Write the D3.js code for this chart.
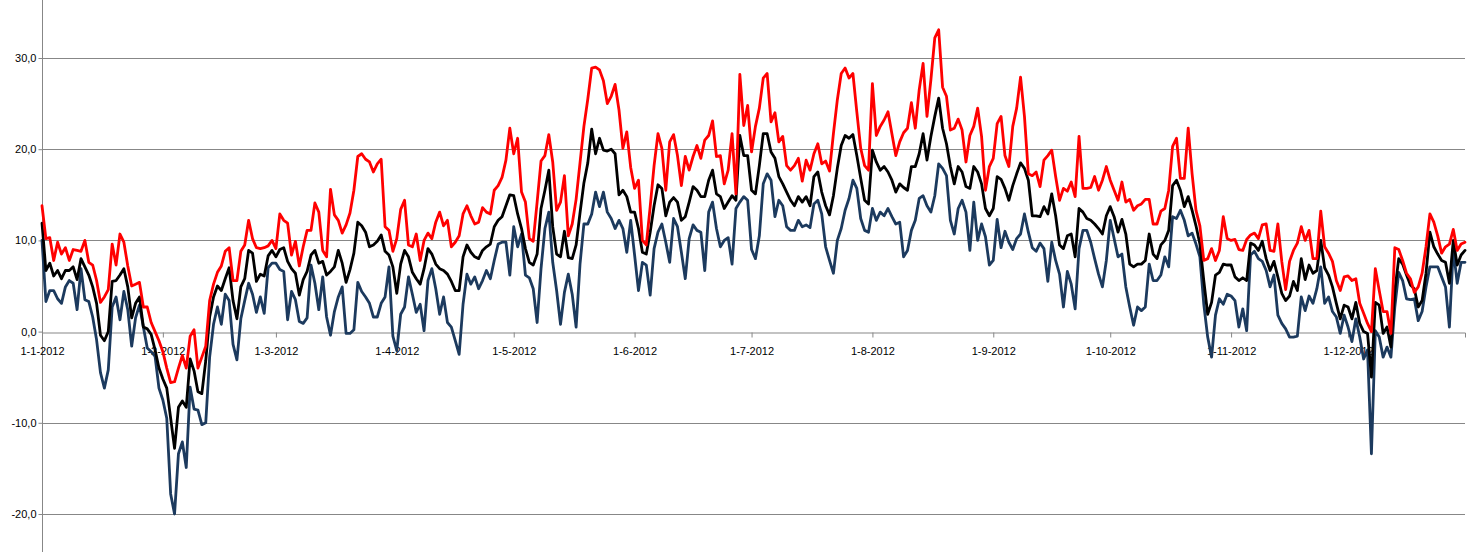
<!DOCTYPE html>
<html>
<head>
<meta charset="utf-8">
<script src="https://cdn.jsdelivr.net/npm/d3@7/dist/d3.min.js"></script>
<style>
  html, body { margin: 0; padding: 0; background: #ffffff; }
  svg { display: block; }
  text { font-family: "Liberation Sans", Arial, sans-serif; font-size: 11px; fill: #000; }
</style>
</head>
<body>
<svg id="chart" width="1472" height="552"></svg>
<script>
// ---- Data: daily temperatures 2012 (°C) ----
const tMax = [
  // Jan
  13.8,10.2,10.3,7.8,9.8,8.5,9.2,7.8,9.0,8.9,8.8,10.0,7.6,7.3,5.6,3.2,3.8,4.6,9.6,7.3,10.7,9.8,7.2,5.0,5.2,5.4,2.7,2.7,1.0,0.0,-1.0,
  // Feb
  -2.2,-4.0,-5.6,-5.5,-4.0,-2.6,-4.0,-0.5,0.2,-4.0,-2.8,-1.6,3.4,5.2,6.5,7.2,8.8,9.2,5.6,5.6,8.8,9.5,12.2,10.2,9.2,9.1,9.2,9.4,10.0,
  // Mar
  9.1,12.9,12.2,11.9,8.4,9.9,7.2,9.3,11.1,11.1,14.1,13.1,8.9,8.2,15.6,12.8,12.2,10.8,11.7,13.0,15.5,19.2,19.5,18.9,18.6,17.5,18.4,18.9,11.5,11.1,8.8,
  // Apr
  10.2,13.4,14.4,9.5,9.3,10.7,7.8,10.0,10.8,10.2,12.0,13.1,11.6,12.2,9.3,9.8,10.5,12.9,13.8,12.7,11.8,12.0,13.6,13.1,12.9,15.5,16.0,16.9,18.8,22.3,
  // May
  19.5,21.2,15.3,14.2,10.2,9.9,14.2,18.7,19.3,21.6,18.6,13.3,14.2,17.1,10.5,11.8,14.5,18.5,22.5,25.5,28.9,29.0,28.7,27.5,25.0,25.8,27.1,24.3,20.1,21.9,18.0,
  // Jun
  15.7,16.6,10.0,9.5,13.7,18.2,21.7,20.1,15.5,20.8,21.6,19.3,16.0,19.2,17.7,19.2,20.4,19.0,21.0,21.5,23.1,19.2,19.3,16.2,17.7,21.7,15.1,28.2,22.6,24.8,
  // Jul
  19.7,22.5,24.5,27.8,28.3,23.0,24.0,20.8,21.4,18.2,17.7,18.2,19.0,16.5,18.8,17.7,19.5,20.6,18.4,18.7,17.6,21.7,25.4,28.3,28.9,27.8,28.3,24.1,20.1,18.2,17.7,
  // Aug
  27.2,21.5,22.5,23.2,24.1,21.7,19.3,20.8,21.8,22.3,25.1,22.3,26.5,29.4,23.6,27.6,32.2,33.1,26.8,25.8,22.1,22.3,23.3,22.1,18.6,21.5,22.5,24.5,21.4,15.5,18.1,
  // Sep
  19.0,22.8,23.6,19.3,18.1,22.5,24.5,27.9,23.6,17.3,17.1,17.5,15.9,18.8,19.3,19.9,17.0,14.4,15.7,15.4,16.4,14.8,21.4,15.7,15.7,15.8,17.0,15.5,16.6,18.1,
  // Oct
  16.6,15.5,14.4,16.4,14.2,14.5,13.3,13.8,14.0,14.5,14.5,11.8,11.8,13.2,13.5,15.5,20.3,21.2,16.8,16.8,22.3,17.3,13.3,11.6,7.8,8.0,9.1,7.8,8.9,12.6,10.2,
  // Nov
  10.0,10.1,9.0,8.9,10.1,10.6,10.8,10.2,11.7,11.8,8.9,8.8,11.8,7.7,4.6,7.7,8.9,9.7,11.5,10.0,11.1,8.0,8.0,13.2,9.3,8.6,7.7,5.6,4.5,6.0,
  // Dec
  6.1,5.6,5.8,3.1,2.0,0.9,0.0,6.9,4.5,2.2,2.2,-0.2,9.2,9.0,7.8,6.4,5.8,4.3,4.9,6.4,9.3,12.9,12.0,10.5,8.6,9.3,9.6,11.2,8.9,9.6,9.8
];

const tMean = [
  // Jan
  11.9,6.7,7.5,6.1,6.7,5.8,6.7,6.7,7.1,5.7,8.0,7.1,6.2,4.9,3.1,-0.4,-1.0,0.0,5.5,5.6,6.2,6.9,4.9,1.5,3.1,3.8,0.5,0.3,-0.3,-2.0,-4.0,
  // Feb
  -5.2,-6.2,-9.5,-12.8,-8.3,-7.6,-8.3,-3.0,-4.3,-6.6,-6.8,-3.2,1.6,3.8,5.0,4.5,5.8,7.0,3.4,1.4,4.9,5.8,8.9,8.6,5.5,6.3,6.1,8.3,8.9,
  // Mar
  8.2,9.0,9.2,7.7,6.9,6.4,4.0,5.7,6.6,8.4,8.9,7.5,7.7,6.2,6.6,7.1,8.9,7.5,5.4,6.8,8.6,12.0,11.6,10.9,9.3,9.5,9.9,10.6,8.8,8.4,7.1,
  // Apr
  4.2,7.4,8.9,8.2,6.5,5.8,5.2,6.9,9.1,8.5,7.4,6.9,6.7,6.3,5.5,4.5,4.5,8.2,9.5,8.7,8.2,8.0,8.9,9.3,9.6,11.5,12.2,12.6,13.8,15.0,
  // May
  14.9,12.9,11.3,9.1,7.6,7.3,8.5,13.5,15.5,17.7,11.5,8.5,8.2,11.0,8.1,8.0,9.5,13.0,16.3,18.5,22.2,19.5,21.2,19.9,19.8,20.0,19.5,15.0,15.5,14.8,13.1,
  // Jun
  13.1,11.3,8.7,8.5,10.9,13.8,16.1,15.7,12.7,14.2,14.7,14.2,12.2,12.6,14.2,15.9,15.5,14.8,14.8,16.6,17.7,15.1,14.8,13.5,14.2,14.9,14.4,21.5,19.3,19.3,
  // Jul
  15.5,15.1,18.2,21.7,21.7,19.7,19.0,17.0,16.2,15.3,14.4,13.8,14.8,14.2,14.8,13.8,17.0,17.5,15.3,13.8,12.8,14.9,17.9,20.4,21.5,21.2,21.6,19.3,16.8,14.4,14.0,
  // Aug
  19.9,18.6,17.7,18.1,17.5,16.6,15.3,16.2,15.8,15.5,18.1,18.1,19.5,21.7,18.8,21.4,23.6,25.6,22.3,20.6,18.1,16.2,18.1,17.5,15.9,15.7,18.1,17.5,16.2,13.5,12.7,
  // Sep
  13.5,17.0,16.7,15.7,14.4,16.0,17.3,18.5,17.9,16.6,12.7,12.7,12.6,13.7,12.9,15.1,12.7,9.5,9.1,10.5,10.7,8.2,13.5,13.1,12.4,12.2,11.8,11.3,10.7,12.7,
  // Oct
  13.7,12.6,10.9,12.3,10.7,7.4,7.1,7.4,7.4,7.8,10.7,8.5,8.0,9.5,10.0,11.1,16.0,16.6,15.5,13.7,14.8,13.3,11.6,9.6,5.6,1.9,3.2,6.2,6.5,7.4,7.3,
  // Nov
  7.3,6.0,5.6,5.9,5.6,9.7,9.5,8.9,9.9,8.0,6.7,7.7,6.0,4.2,3.4,3.9,5.5,4.5,8.0,5.7,7.3,6.4,6.7,10.0,7.0,6.2,4.9,3.1,1.4,2.9,
  // Dec
  2.7,1.4,3.2,0.9,0.0,-0.2,-5.0,3.2,2.9,-0.2,0.5,-1.7,4.5,8.0,7.4,6.2,5.1,4.7,2.7,3.4,6.4,10.9,9.3,8.5,7.8,7.6,5.3,10.0,7.3,8.4,8.9
];

const tMin = [
  // Jan
  10.0,3.3,4.5,4.5,3.6,3.1,4.9,5.6,5.3,2.4,6.9,3.5,3.3,1.6,-0.9,-4.5,-6.2,-4.2,2.7,3.8,1.3,4.4,2.4,-1.6,1.5,2.9,0.5,-1.8,-2.2,-2.7,-6.2,
  // Feb
  -7.5,-9.5,-17.8,-20.0,-13.4,-12.1,-14.9,-6.1,-8.5,-8.6,-10.2,-10.0,-2.8,0.8,2.7,0.8,4.1,3.4,-1.4,-3.1,1.4,3.4,5.3,4.1,2.1,3.8,2.0,7.0,7.5,
  // Mar
  7.5,6.8,6.6,1.3,4.4,3.5,1.1,0.9,1.5,7.3,5.3,2.4,6.0,1.6,-0.4,2.2,3.8,4.9,-0.2,-0.2,0.2,5.4,4.4,3.8,3.1,1.6,1.6,3.1,3.8,7.1,-0.5,
  // Apr
  -2.1,1.9,2.7,6.0,4.1,2.1,3.0,0.1,5.6,6.9,4.7,1.9,3.8,1.0,0.5,-1.0,-2.5,3.0,6.3,5.2,6.0,4.7,5.6,6.7,5.8,7.8,9.6,9.8,9.8,6.2,
  // May
  11.5,9.3,10.7,6.2,5.9,4.7,1.0,6.9,11.3,13.1,7.6,4.5,0.8,4.3,6.3,4.1,0.5,7.4,11.8,11.8,12.9,15.3,13.7,15.3,13.1,12.4,11.3,12.2,11.3,8.7,12.2,
  // Jun
  8.4,4.5,7.6,7.3,4.0,9.1,10.9,11.8,9.8,7.6,12.4,11.5,8.7,5.8,10.2,11.7,11.1,10.9,6.7,13.1,14.2,11.3,9.3,10.0,10.3,7.4,13.5,14.2,14.8,14.4,
  // Jul
  9.0,8.0,10.5,16.2,17.3,16.6,12.6,14.4,13.8,11.5,11.1,11.1,12.2,11.5,11.7,11.4,14.0,14.4,12.9,9.3,7.8,6.4,10.0,11.3,13.3,14.6,16.6,15.7,12.4,11.1,10.9,
  // Aug
  13.5,12.2,13.1,12.7,13.5,12.6,11.8,12.0,8.2,8.9,11.1,12.2,14.6,14.9,13.8,13.1,14.9,18.4,17.9,17.1,12.2,10.7,13.5,14.4,13.1,8.9,14.2,10.0,11.8,10.4,7.3,
  // Sep
  7.8,12.3,9.2,11.0,9.8,9.0,10.2,10.7,12.9,10.9,9.2,8.8,9.7,9.1,5.5,9.8,7.8,6.3,2.7,6.6,5.2,2.5,9.1,11.1,11.1,9.8,8.0,6.3,4.9,7.8,
  // Oct
  12.2,10.2,8.2,8.5,4.9,2.7,0.7,2.7,2.3,2.7,7.4,5.6,5.6,6.2,8.2,7.1,12.6,12.4,13.3,12.2,10.5,10.8,9.6,8.2,3.0,-0.6,-2.8,1.8,3.6,3.0,4.1,
  // Nov
  3.9,3.4,0.5,2.5,0.1,8.4,8.8,8.0,7.7,6.7,4.9,6.2,1.8,0.9,0.3,-0.6,-0.6,-0.5,3.8,2.3,3.9,3.1,4.7,7.1,3.1,3.8,2.2,1.6,-0.2,1.8,
  // Dec
  0.5,-1.1,1.4,-0.6,-3.0,-2.0,-13.4,0.1,-0.6,-2.8,-1.7,-2.8,2.7,6.5,5.6,3.6,3.5,3.6,1.2,2.2,4.9,7.1,7.1,7.1,6.0,4.9,0.5,9.1,5.3,7.6,7.6
];

// Categories: every day of 2012
const days = d3.timeDay.range(new Date(2012, 0, 1), new Date(2013, 0, 1));
// Category-axis tick labels (first of each month)
const xTickLabels = ["1-1-2012","1-2-2012","1-3-2012","1-4-2012","1-5-2012","1-6-2012",
                     "1-7-2012","1-8-2012","1-9-2012","1-10-2012","1-11-2012","1-12-2012"];
const yTicks = [-20, -10, 0, 10, 20, 30];

// ---- Layout ----
const svg = d3.select("#chart");
const W = 1472, H = 552;
const left = 42, right = 1465;

const idx = d3.range(days.length);
const x = d3.scalePoint().domain(idx).range([left, right]);
const y = d3.scaleLinear().domain([-20, 30]).range([514, 58]);

const gridColor = "#878787";
const crisp = v => Math.round(v) + 0.5;

// horizontal gridlines (except the 0 axis)
svg.append("g").selectAll("line")
  .data(yTicks.filter(t => t !== 0))
  .join("line")
  .attr("x1", left).attr("x2", right)
  .attr("y1", d => crisp(y(d))).attr("y2", d => crisp(y(d)))
  .attr("stroke", gridColor).attr("stroke-width", 1);

// vertical value axis line
svg.append("line")
  .attr("x1", crisp(left)).attr("x2", crisp(left))
  .attr("y1", 0).attr("y2", H)
  .attr("stroke", gridColor).attr("stroke-width", 1);

// y tick labels
const fmtY = v => d3.format(".1f")(v).replace(".", ",").replace("\u2212", "-");
const yAxis = d3.axisLeft(y).tickValues(yTicks).tickSize(4).tickPadding(2).tickFormat(fmtY);
const gy = svg.append("g").attr("transform", `translate(${crisp(left)},0)`).call(yAxis);
gy.select(".domain").remove();
gy.selectAll(".tick line").attr("stroke", gridColor);
gy.selectAll(".tick text").attr("fill", "#000")
  .style("font-family", '"Liberation Sans", Arial, sans-serif').style("font-size", "11px");

// category axis at 0
const monthStarts = idx.filter(i => days[i].getDate() === 1);
const xAxis = d3.axisBottom(x)
  .tickValues(monthStarts)
  .tickSize(5).tickSizeOuter(5).tickPadding(10)
  .tickFormat((d, i) => xTickLabels[i]);
const gx = svg.append("g").attr("transform", `translate(0,${crisp(y(0))})`).call(xAxis);
gx.select(".domain").attr("stroke", gridColor);
gx.selectAll(".tick line").attr("stroke", gridColor);
gx.selectAll(".tick text").attr("fill", "#000")
  .style("font-family", '"Liberation Sans", Arial, sans-serif').style("font-size", "11px");

// ---- Series ----
const line = d3.line().x((d, i) => x(i)).y(d => y(d));
const series = [
  { values: tMin,  color: "#1c3a5e" },
  { values: tMean, color: "#000000" },
  { values: tMax,  color: "#ff0000" }
];
svg.append("g").selectAll("path")
  .data(series)
  .join("path")
  .attr("d", s => line(s.values))
  .attr("fill", "none")
  .attr("stroke", s => s.color)
  .attr("stroke-width", 2.8)
  .attr("stroke-linejoin", "round")
  .attr("stroke-linecap", "round");
</script>
</body>
</html>
